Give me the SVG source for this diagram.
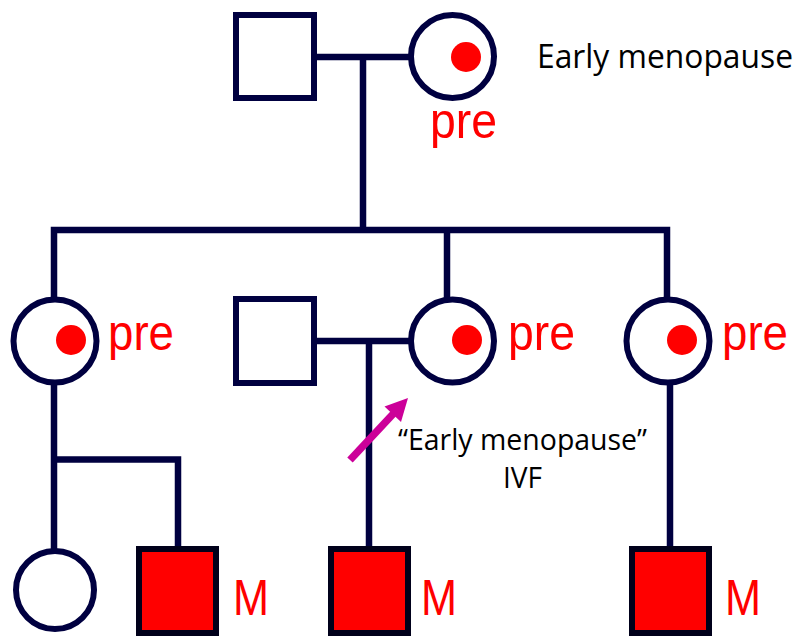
<svg xmlns="http://www.w3.org/2000/svg" width="799" height="636" viewBox="0 0 799 636">
  <style>
    .ln { fill: none; stroke: #000040; stroke-width: 6.5; stroke-linejoin: miter; }
    .sym { fill: #ffffff; stroke: #000040; stroke-width: 6; }
    .aff { fill: #ff0000; stroke: #00001a; stroke-width: 6; }
    .dot { fill: #ff0000; }
    .red { font-family: "Liberation Sans", Arial, sans-serif; font-size: 50px; fill: #ff0000; }
    .note { font-family: "Open Sans", "Noto Sans", sans-serif; fill: #000000; }
  </style>
  <rect width="799" height="636" fill="#ffffff"/>
  <g id="connectors">
    <line class="ln" x1="314" y1="57" x2="411" y2="57"/>
    <line class="ln" x1="363" y1="57" x2="363" y2="230"/>
    <polyline class="ln" points="54,300 54,230 667,230 667,300"/>
    <line class="ln" x1="447" y1="230" x2="447" y2="300"/>
    <line class="ln" x1="314" y1="341" x2="411" y2="341"/>
    <line class="ln" x1="369" y1="341" x2="369" y2="549"/>
    <line class="ln" x1="670" y1="383" x2="670" y2="549"/>
    <line class="ln" x1="54" y1="383" x2="54" y2="551"/>
    <polyline class="ln" points="54,459.5 178,459.5 178,549"/>
  </g>
  <g id="gen1-father"><rect class="sym" x="236" y="15" width="78" height="83"/></g>
  <g id="gen1-mother">
    <circle class="sym" cx="452.5" cy="56.5" r="41.5"/>
    <circle class="dot" cx="466" cy="57" r="15"/>
    <text class="red" x="430" y="138" textLength="67" lengthAdjust="spacingAndGlyphs">pre</text>
  </g>
  <g id="gen1-note"><text class="note" x="537" y="68" font-size="32" textLength="256" lengthAdjust="spacingAndGlyphs">Early menopause</text></g>
  <g id="gen2-daughter1">
    <circle class="sym" cx="55" cy="341" r="41.5"/>
    <circle class="dot" cx="71" cy="340" r="15"/>
    <text class="red" x="108" y="350" textLength="66" lengthAdjust="spacingAndGlyphs">pre</text>
  </g>
  <g id="gen2-husband"><rect class="sym" x="236" y="299" width="78" height="84"/></g>
  <g id="gen2-daughter2">
    <circle class="sym" cx="452.5" cy="341" r="41.5"/>
    <circle class="dot" cx="467" cy="340" r="15"/>
    <text class="red" x="508" y="350" textLength="67" lengthAdjust="spacingAndGlyphs">pre</text>
  </g>
  <g id="gen2-daughter3">
    <circle class="sym" cx="668" cy="341" r="41.5"/>
    <circle class="dot" cx="682" cy="340" r="15"/>
    <text class="red" x="722" y="350" textLength="66" lengthAdjust="spacingAndGlyphs">pre</text>
  </g>
  <g id="proband-arrow">
    <line x1="350" y1="460" x2="394" y2="413" stroke="#cc0099" stroke-width="7.5"/>
    <polygon points="408,398 384.5,406.5 401,422" fill="#cc0099"/>
  </g>
  <g id="ivf-note">
    <text class="note" x="398" y="450" font-size="30" textLength="249" lengthAdjust="spacingAndGlyphs">“Early menopause”</text>
    <text class="note" x="503" y="488" font-size="30" textLength="39" lengthAdjust="spacingAndGlyphs">IVF</text>
  </g>
  <g id="gen3-daughter"><circle class="sym" cx="55" cy="590" r="39"/></g>
  <g id="gen3-son1">
    <rect class="aff" x="139" y="549" width="77" height="84"/>
    <text class="red" x="233" y="615" textLength="36" lengthAdjust="spacingAndGlyphs">M</text>
  </g>
  <g id="gen3-son2">
    <rect class="aff" x="331" y="549" width="77" height="84"/>
    <text class="red" x="421" y="615" textLength="36" lengthAdjust="spacingAndGlyphs">M</text>
  </g>
  <g id="gen3-son3">
    <rect class="aff" x="632" y="549" width="77" height="84"/>
    <text class="red" x="725" y="615" textLength="36" lengthAdjust="spacingAndGlyphs">M</text>
  </g>
</svg>
